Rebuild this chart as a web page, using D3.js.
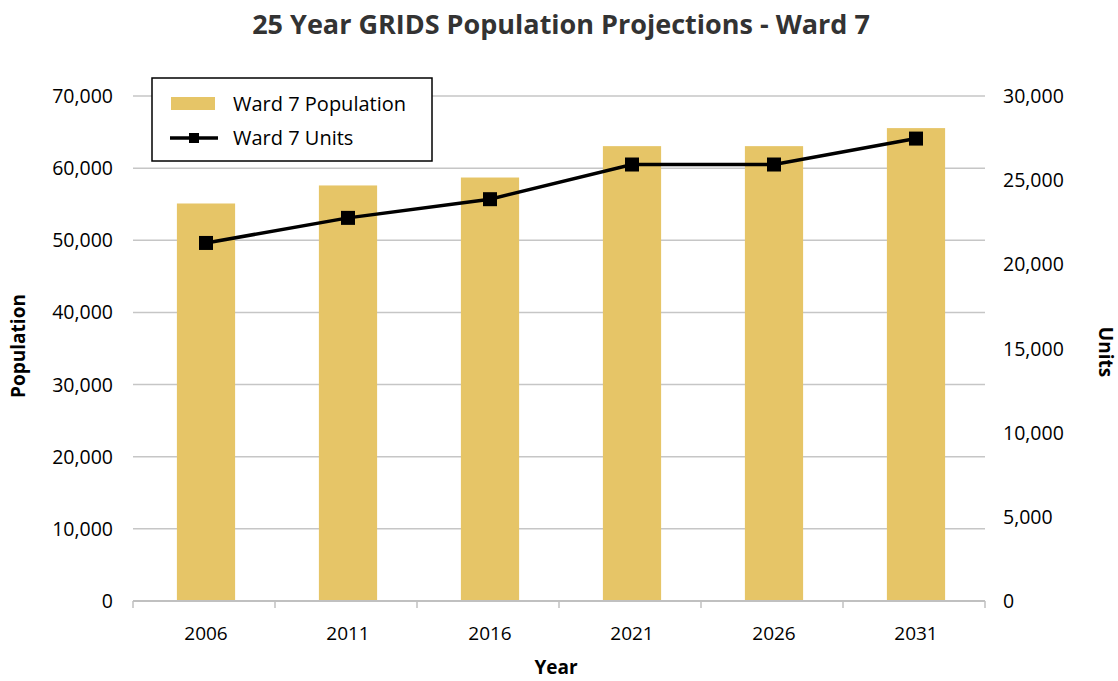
<!DOCTYPE html>
<html>
<head>
  <meta charset="utf-8">
  <script src="https://d3js.org/d3.v7.min.js"></script>
</head>
<style>
  body { margin: 0; background: #fff; }
  svg text { font-family: "Open Sans", "Liberation Sans", sans-serif; fill: #000; }
</style>
<body>
  <svg width="1118" height="681"></svg>

  <script>
    // Chart data
    const years = ['2006', '2011', '2016', '2021', '2026', '2031'];
    const population = [55100, 57600, 58700, 63050, 63050, 65550];
    const units = [21270, 22760, 23870, 25930, 25930, 27470];
    const popTicks = [0, 10000, 20000, 30000, 40000, 50000, 60000, 70000];
    const unitTicks = [0, 5000, 10000, 15000, 20000, 25000, 30000];

    const margin = {top: 96, right: 133, bottom: 80, left: 133};
    const width = 1118 - margin.left - margin.right;
    const height = 601 - margin.top;

    const svg = d3.select('svg')
      .append('g')
      .attr('transform', `translate(${margin.left},${margin.top})`);

    const x = d3.scaleBand()
      .range([2, width + 2])
      .paddingInner(0.59)
      .paddingOuter(0.295)
      .domain(years);

    const y = d3.scaleLinear()
      .range([height, 0])
      .domain([0, 70000]);

    const y2 = d3.scaleLinear()
      .range([height, 0])
      .domain([0, 30000]);

    const fmt = d3.format(',');

    // Gridlines
    svg.append('g')
      .selectAll('line')
      .data(popTicks.slice(1))
      .enter()
      .append('line')
      .attr('x1', 0)
      .attr('x2', width)
      .attr('y1', d => y(d))
      .attr('y2', d => y(d))
      .attr('stroke', '#c6c6c6')
      .attr('stroke-width', 1.5);

    // Bars
    svg.selectAll('.bar')
      .data(years)
      .enter()
      .append('rect')
      .attr('class', 'bar')
      .attr('x', d => x(d))
      .attr('y', (d, i) => y(population[i]))
      .attr('width', x.bandwidth())
      .attr('height', (d, i) => height - y(population[i]))
      .attr('fill', '#e6c567');

    // X axis line and tick marks at band boundaries
    const xg = svg.append('g').attr('transform', `translate(0,${height})`);
    xg.append('line')
      .attr('x1', 0).attr('x2', width)
      .attr('stroke', '#c0c0c0').attr('stroke-width', 2);
    xg.selectAll('.tk')
      .data(d3.range(years.length + 1))
      .enter()
      .append('line')
      .attr('x1', i => i * width / years.length)
      .attr('x2', i => i * width / years.length)
      .attr('y1', 0).attr('y2', 7)
      .attr('stroke', '#c0c0c0').attr('stroke-width', 1.5);
    xg.selectAll('.lbl')
      .data(years)
      .enter()
      .append('text')
      .attr('x', d => x(d) + x.bandwidth() / 2)
      .attr('y', 39)
      .attr('text-anchor', 'middle')
      .style('font-size', '19px')
      .text(d => d);

    // Left axis labels
    svg.append('g')
      .selectAll('text')
      .data(popTicks)
      .enter()
      .append('text')
      .attr('x', -20)
      .attr('y', d => y(d) + 7)
      .attr('text-anchor', 'end')
      .style('font-size', '19.5px')
      .text(d => fmt(d));

    // Right axis labels
    svg.append('g')
      .selectAll('text')
      .data(unitTicks)
      .enter()
      .append('text')
      .attr('x', width + 18)
      .attr('y', d => y2(d) + 7)
      .attr('text-anchor', 'start')
      .style('font-size', '19.5px')
      .text(d => fmt(d));

    // Units line
    const line = d3.line()
      .x((d, i) => x(years[i]) + x.bandwidth() / 2)
      .y(d => y2(d));

    svg.append('path')
      .datum(units)
      .attr('d', line)
      .attr('fill', 'none')
      .attr('stroke', '#000')
      .attr('stroke-width', 3.5);

    svg.selectAll('.marker')
      .data(units)
      .enter()
      .append('rect')
      .attr('x', (d, i) => x(years[i]) + x.bandwidth() / 2 - 7)
      .attr('y', d => y2(d) - 7)
      .attr('width', 14)
      .attr('height', 14)
      .attr('fill', '#000');

    // Legend
    const lg = svg.append('g').attr('transform', 'translate(19,-18)');
    lg.append('rect')
      .attr('width', 280).attr('height', 83)
      .attr('fill', '#fff').attr('stroke', '#000').attr('stroke-width', 1.5);
    lg.append('rect')
      .attr('x', 19).attr('y', 19).attr('width', 44).attr('height', 13)
      .attr('fill', '#e6c567');
    lg.append('text')
      .attr('x', 81).attr('y', 33)
      .style('font-size', '20px')
      .text('Ward 7 Population');
    lg.append('line')
      .attr('x1', 18).attr('x2', 66).attr('y1', 60).attr('y2', 60)
      .attr('stroke', '#000').attr('stroke-width', 3.5);
    lg.append('rect')
      .attr('x', 37).attr('y', 55).attr('width', 10).attr('height', 10)
      .attr('fill', '#000');
    lg.append('text')
      .attr('x', 81).attr('y', 67)
      .style('font-size', '20px')
      .text('Ward 7 Units');

    // Titles
    d3.select('svg').append('text')
      .attr('x', 561).attr('y', 34)
      .attr('text-anchor', 'middle')
      .style('font-size', '27px').style('font-weight', 'bold').style('fill', '#333')
      .text('25 Year GRIDS Population Projections - Ward 7');

    d3.select('svg').append('text')
      .attr('x', 556).attr('y', 674)
      .attr('text-anchor', 'middle')
      .style('font-size', '19px').style('font-weight', 'bold')
      .text('Year');

    d3.select('svg').append('text')
      .attr('transform', 'translate(25,346) rotate(-90)')
      .attr('text-anchor', 'middle')
      .style('font-size', '19px').style('font-weight', 'bold')
      .text('Population');

    d3.select('svg').append('text')
      .attr('transform', 'translate(1099,352) rotate(90)')
      .attr('text-anchor', 'middle')
      .style('font-size', '19px').style('font-weight', 'bold')
      .text('Units');
  </script>
</body>
</html>
